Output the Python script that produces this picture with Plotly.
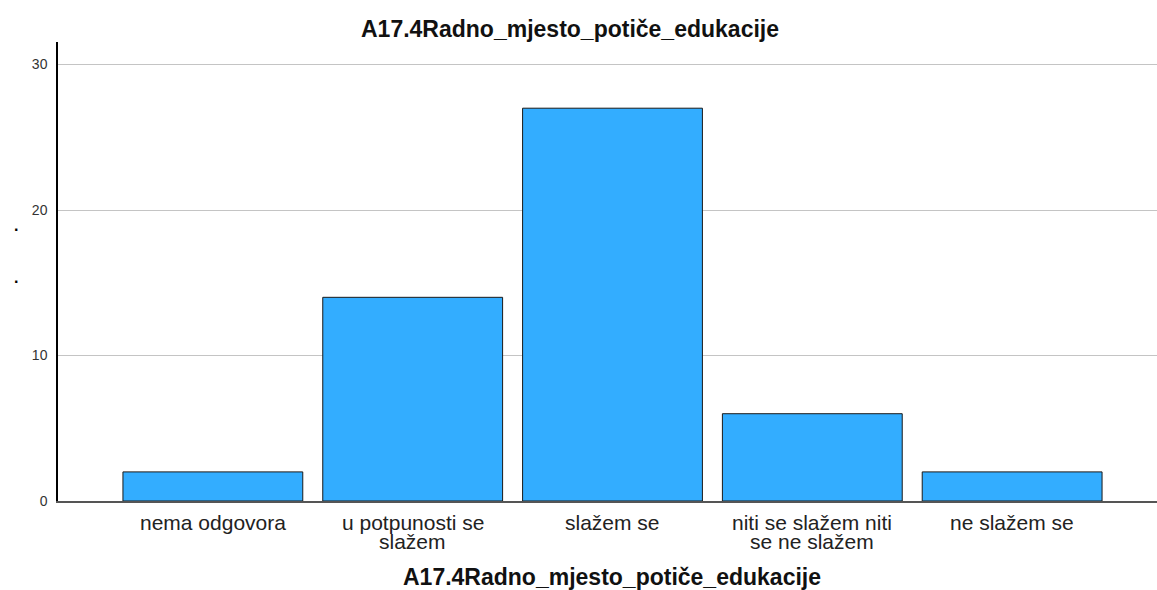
import plotly.graph_objects as go

# data
categories = ["nema odgovora", "u potpunosti se\nslažem", "slažem se",
              "niti se slažem niti\nse ne slažem", "ne slažem se"]
counts = [2, 14, 27, 6, 2]
y_ticks = [0, 10, 20, 30]
title_text = "A17.4Radno_mjesto_potiče_edukacije"

FONT = "Arial, Liberation Sans, sans-serif"
W, H = 1157, 590
L, R, T, B = 58, 0, 42, 89
PH = H - T - B
PW = W - L - R

fig = go.Figure(go.Bar(
    x=list(range(len(categories))), y=counts,
    width=0.9,
    marker=dict(color="#33adff", line=dict(color="#1a1a1a", width=1)),
    hoverinfo="skip",
))

annotations = []
# category labels, one annotation per line to keep the tight SPSS spacing
for i, cat in enumerate(categories):
    for j, line in enumerate(cat.split("\n")):
        annotations.append(dict(
            x=i, xref="x", y=0, yref="paper", yanchor="middle",
            yshift=-21 - 19 * j, text=line, showarrow=False,
            font=dict(family=FONT, size=21, color="#222"),
        ))

# x axis title
annotations.append(dict(
    x=(612 - L) / PW, xref="paper", y=-(577 - 501) / PH, yref="paper",
    yanchor="middle", text="<b>" + title_text + "</b>", showarrow=False,
    font=dict(family=FONT, size=23, color="#111"),
))
# chart title
annotations.append(dict(
    x=(570 - L) / PW, xref="paper", y=1 + (T - 29) / PH, yref="paper",
    yanchor="middle", text="<b>" + title_text + "</b>", showarrow=False,
    font=dict(family=FONT, size=23, color="#111"),
))
# stray marks where the y axis title would be
for yy in [228, 280]:
    annotations.append(dict(
        x=-(L - 12) / PW, xref="paper",
        y=(501 - yy) / PH, yref="paper", yanchor="bottom", yshift=-8,
        text="<b>.</b>", showarrow=False,
        font=dict(family=FONT, size=16, color="#000"),
    ))

fig.update_layout(
    width=W, height=H,
    margin=dict(l=L, r=R, t=T, b=B),
    paper_bgcolor="white", plot_bgcolor="white",
    showlegend=False,
    xaxis=dict(
        range=[-0.775, 4.725], showticklabels=False, showgrid=False,
        zeroline=False, showline=True, linecolor="#555", linewidth=1.5,
        ticks="", fixedrange=True,
    ),
    yaxis=dict(
        range=[0, 31.55], tickvals=y_ticks, showgrid=True,
        gridcolor="#c4c4c4", gridwidth=1, zeroline=False,
        showline=True, linecolor="#000", linewidth=1.5, ticks="",
        ticklabelstandoff=6, fixedrange=True,
        tickfont=dict(family=FONT, size=14, color="#333"),
    ),
    annotations=annotations,
)

# drop the default page margin so the figure sits at the window corner
fig.write_html("out.html", config={"displayModeBar": False}, post_script=(
    "document.body.style.margin='0';"
    "document.body.style.overflow='hidden';"
))
